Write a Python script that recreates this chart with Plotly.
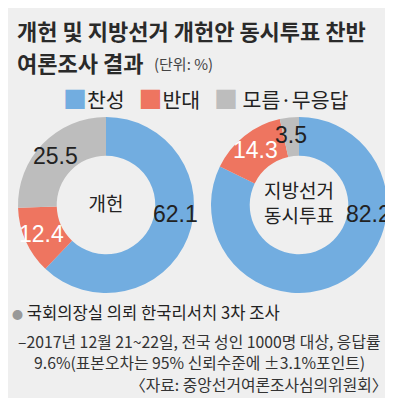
import math
import plotly.graph_objects as go

W, H = 393, 398

categories = ["찬성", "반대", "모름·무응답"]
colors = ["#72ade0", "#ee7560", "#bdbdbd"]
reform_values = [62.1, 12.4, 25.5]
concurrent_values = [82.2, 14.3, 3.5]
reform_label = "개헌"
concurrent_label = "지방선거<br>동시투표"

title_line1 = "<b>개헌 및 지방선거 개헌안 동시투표 찬반</b>"
title_line2 = "<b>여론조사 결과</b>"
unit_text = "(단위: %)"
note_lines = [
    "국회의장실 의뢰 한국리서치 3차 조사",
    "–2017년 12월 21~22일, 전국 성인 1000명 대상, 응답률",
    "9.6%(표본오차는 95% 신뢰수준에 ±3.1%포인트)",
    "〈자료: 중앙선거여론조사심의위원회〉",
]

KR = "Noto Sans CJK KR"
NUM = "Liberation Sans Narrow, Liberation Sans, Arial, sans-serif"
label_colors = ["#222222", "#ffffff", "#222222"]

HOLE = 0.56
DOMINANT_LABEL_ANGLE = 97  # degrees clockwise from 12 o'clock, for the largest slice


def py(px):
    return 1 - px / H


def px_x(px):
    return px / W


pies = [
    (reform_values, reform_label, (10, 186)),
    (concurrent_values, concurrent_label, (203, 379)),
]
top_px, bot_px = 109, 285

fig = go.Figure()
ann = []
for values, center_label, (x0, x1) in pies:
    fig.add_trace(go.Pie(
        labels=categories, values=values, hole=HOLE, sort=False,
        direction="clockwise", rotation=0,
        marker=dict(colors=colors, line=dict(width=0)),
        textinfo="none",
        domain=dict(x=[px_x(x0), px_x(x1)], y=[py(bot_px), py(top_px)]),
        title=dict(text=center_label, position="middle center",
                   font=dict(family=KR, size=19, color="#222")),
        hoverinfo="skip", showlegend=False,
    ))
    # value labels placed on the ring, derived from the slice angles
    cx = (x0 + x1) / 2
    cy = (top_px + bot_px) / 2
    R = (x1 - x0) / 2
    r = R * (1 + HOLE) / 2
    total = sum(values)
    cum = 0
    for i, v in enumerate(values):
        mid = (cum + v / 2) / total * 360
        cum += v
        ang = DOMINANT_LABEL_ANGLE if i == 0 else mid
        rr = r + 1.5
        lx = cx + rr * math.sin(math.radians(ang))
        ly = cy - rr * math.cos(math.radians(ang))
        ann.append(dict(text=f"{v}", x=px_x(lx), y=py(ly), xanchor="center", yanchor="middle",
                        font=dict(family=NUM, size=23, color=label_colors[i])))

legend_text = "   ".join(
    f"<span style='color:{c};font-size:24px'>■</span>{'' if i < 2 else ' '}{cat}"
    for i, (c, cat) in enumerate(zip(colors, categories))
)

ann += [
    dict(text=title_line1, x=px_x(7), y=py(22), xanchor="left", yanchor="middle",
         font=dict(family=KR, size=22, color="#2a2a2a")),
    dict(text=title_line2, x=px_x(7), y=py(54), xanchor="left", yanchor="middle",
         font=dict(family=KR, size=22, color="#2a2a2a")),
    dict(text=unit_text, x=px_x(144), y=py(56), xanchor="left", yanchor="middle",
         font=dict(family=KR, size=15, color="#444")),
    dict(text=legend_text, x=px_x(198), y=py(89), xanchor="center", yanchor="middle",
         font=dict(family=KR, size=20.5, color="#222")),
    dict(text="<span style='color:#999;font-size:11px'>●</span> " + note_lines[0], x=px_x(2), y=py(304),
         xanchor="left", yanchor="middle", font=dict(family=KR, size=16.6, color="#222")),
    dict(text=note_lines[1], x=px_x(8), y=py(333), xanchor="left", yanchor="middle",
         font=dict(family=KR, size=15.8, color="#333")),
    dict(text=note_lines[2], x=px_x(24), y=py(354), xanchor="left", yanchor="middle",
         font=dict(family=KR, size=15.8, color="#333")),
    dict(text=note_lines[3], x=px_x(382), y=py(376), xanchor="right", yanchor="middle",
         font=dict(family=KR, size=15.8, color="#333")),
]
for a in ann:
    a.update(xref="paper", yref="paper", showarrow=False)

fig.update_layout(
    width=W, height=H, margin=dict(l=0, r=0, t=0, b=0),
    paper_bgcolor="#efefef", plot_bgcolor="#efefef",
    annotations=ann,
    showlegend=False,
)
fig.write_html("out.html", config={"displayModeBar": False})
